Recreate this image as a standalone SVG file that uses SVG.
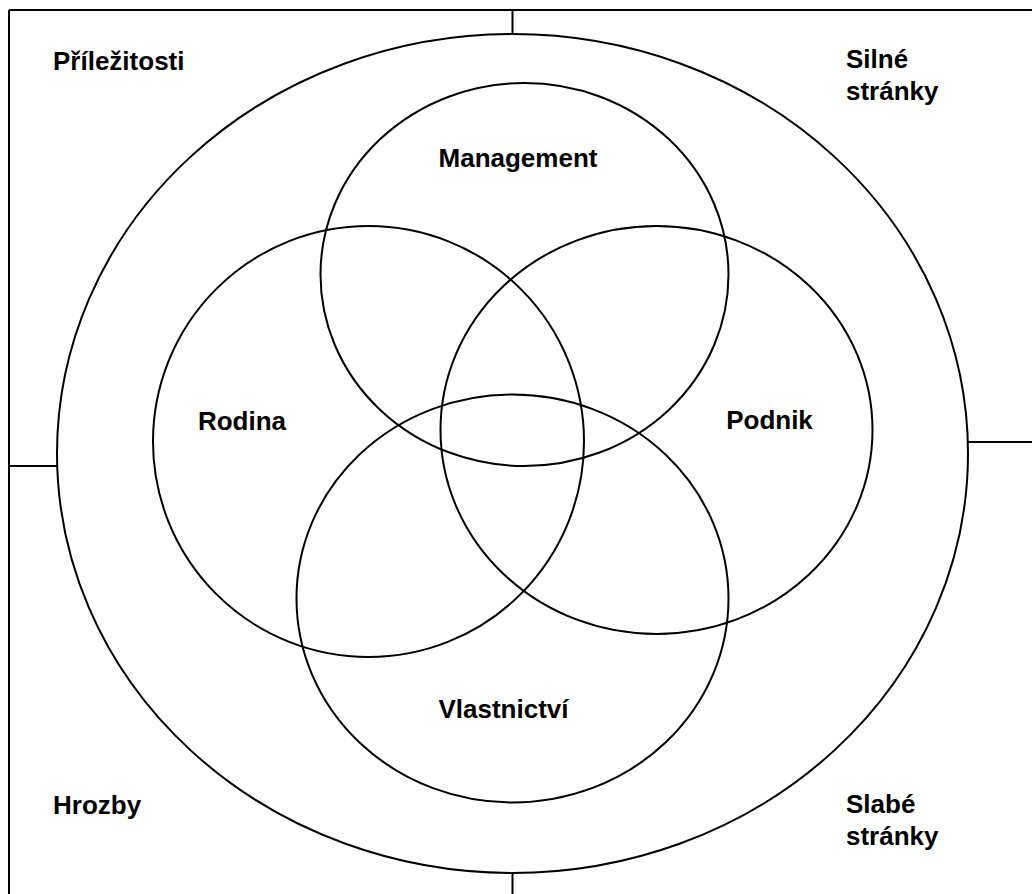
<svg xmlns="http://www.w3.org/2000/svg" width="1032" height="894" viewBox="0 0 1032 894">
  <style>
    .ln { fill: none; stroke: #000; stroke-width: 2; }
    .lbl { font-family: "Liberation Sans", Arial, sans-serif; font-weight: bold; font-size: 26px; fill: #000; }
  </style>
  <rect width="1032" height="894" fill="#fff"/>

  <!-- frame and quadrant dividers -->
  <g id="frame">
    <path class="ln" d="M9 10 H1032 M9 10 V894"/>
    <path class="ln" d="M512.5 10 V34 M512.5 873 V894 M9 466 H57 M968 442 H1032"/>
  </g>

  <!-- outer environment ellipse -->
  <g id="environment">
    <ellipse class="ln" cx="512.5" cy="453.5" rx="455.5" ry="419.5"/>
  </g>

  <!-- quadrant labels -->
  <g id="q-prilezitosti"><text class="lbl" x="53" y="70">Příležitosti</text></g>
  <g id="q-silne"><text class="lbl" x="846" y="68">Silné</text><text class="lbl" x="846" y="100">stránky</text></g>
  <g id="q-hrozby"><text class="lbl" x="53" y="814">Hrozby</text></g>
  <g id="q-slabe"><text class="lbl" x="846" y="813">Slabé</text><text class="lbl" x="846" y="845">stránky</text></g>

  <!-- overlapping sets -->
  <g id="management">
    <ellipse class="ln" cx="524.5" cy="274.5" rx="204" ry="191.5"/>
    <text class="lbl" x="518" y="167" text-anchor="middle">Management</text>
  </g>
  <g id="rodina">
    <ellipse class="ln" cx="368.5" cy="441.5" rx="215.5" ry="215.5"/>
    <text class="lbl" x="242" y="430" text-anchor="middle">Rodina</text>
  </g>
  <g id="podnik">
    <ellipse class="ln" cx="656.5" cy="430" rx="216" ry="204"/>
    <text class="lbl" x="769.5" y="429" text-anchor="middle">Podnik</text>
  </g>
  <g id="vlastnictvi">
    <ellipse class="ln" cx="512.5" cy="598.5" rx="216" ry="204"/>
    <text class="lbl" x="503.5" y="718" text-anchor="middle">Vlastnictví</text>
  </g>
</svg>
